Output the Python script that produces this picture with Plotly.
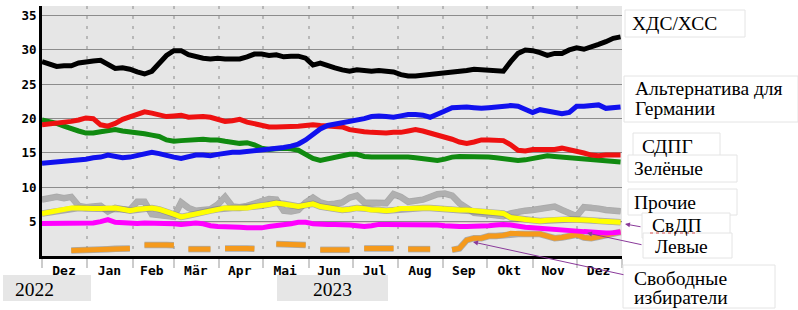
import plotly.graph_objects as go
import pandas as pd

# ---- data (5-day sampling, 2022-12-01 .. 2023-12-31) ----
dates = pd.date_range("2022-12-01", periods=80, freq="5D")

cdu = [28.3, 27.9, 27.6, 27.7, 27.7, 28.1, 28.3, 28.4, 28.5, 27.8,
       27.3, 27.4, 27.2, 26.8, 26.5, 26.9, 28.1, 29.2, 29.9, 29.9,
       29.3, 29.0, 28.8, 28.7, 28.8, 28.7, 28.7, 28.7, 29.0, 29.4,
       29.4, 29.2, 29.3, 29.0, 29.1, 29.1, 28.8, 27.8, 28.1, 27.7,
       27.4, 27.1, 26.9, 27.1, 27.0, 26.9, 27.0, 26.9, 26.8, 26.4,
       26.2, 26.2, 26.3, 26.5, 26.5, 26.6, 26.7, 26.9, 27.0, 27.2,
       27.1, 27.0, 27.0, 26.9, 28.3, 29.5, 30.0, 29.9, 29.6, 29.2,
       29.5, 29.5, 30.0, 30.3, 30.1, 30.4, 30.8, 31.2, 31.7, 31.9]

afd = [13.5, 13.6, 13.7, 13.8, 13.85, 13.9, 14.1, 14.3, 14.4, 14.7,
       14.5, 14.3, 14.4, 14.6, 14.9, 15.1, 14.9, 14.6, 14.4, 14.2,
       14.5, 14.7, 14.7, 14.6, 14.8, 15.0, 15.1, 15.1, 15.2, 15.3,
       15.5, 15.6, 15.7, 15.8, 16.0, 16.3, 16.9, 17.8, 18.5, 19.0,
       19.2, 19.4, 19.5, 19.7, 20.0, 20.3, 20.4, 20.3, 20.2, 20.4,
       20.6, 20.6, 20.5, 20.2, 20.6, 21.1, 21.6, 21.7, 21.7, 21.6,
       21.5, 21.6, 21.7, 21.8, 21.9, 21.8, 21.3, 20.9, 21.3, 21.1,
       20.9, 20.7, 20.9, 21.8, 21.8, 21.9, 22.0, 21.5, 21.6, 21.7]

spd = [19.1, 19.2, 19.3, 19.5, 19.6, 19.8, 20.1, 20.0, 19.1, 18.9,
       19.3, 19.9, 20.3, 20.7, 21.0, 20.8, 20.5, 20.3, 20.4, 20.5,
       20.2, 20.3, 20.3, 20.2, 19.9, 19.6, 19.7, 19.9, 19.5, 19.3,
       19.0, 18.8, 18.8, 18.8, 18.9, 18.9, 19.0, 19.1, 19.0, 18.9,
       18.8, 18.8, 18.4, 18.2, 18.1, 18.0, 17.9, 17.9, 18.0, 18.0,
       18.2, 18.4, 18.2, 17.9, 17.7, 17.4, 17.0, 16.6, 16.4, 16.6,
       16.9, 16.9, 16.9, 16.8, 16.2, 15.4, 15.3, 15.5, 15.5, 15.5,
       15.5, 15.7, 15.5, 15.3, 15.0, 14.7, 14.6, 14.7, 14.7, 14.7]

gruene = [19.8, 19.6, 19.3, 18.9, 18.5, 18.2, 17.9, 17.9, 18.1, 18.3,
          18.4, 18.2, 18.1, 17.9, 17.8, 17.6, 17.4, 16.9, 16.7, 16.8,
          16.9, 17.0, 17.0, 16.9, 16.9, 16.7, 16.6, 16.4, 16.5, 16.2,
          15.7, 15.5, 15.6, 15.7, 15.6, 15.4, 14.8, 14.2, 13.9, 14.1,
          14.3, 14.6, 14.8, 14.8, 14.5, 14.4, 14.4, 14.4, 14.5, 14.5,
          14.4, 14.3, 14.2, 14.1, 13.9, 14.1, 14.4, 14.5, 14.5, 14.5,
          14.4, 14.4, 14.3, 14.2, 14.0, 13.9, 14.0, 14.2, 14.4, 14.6,
          14.5, 14.4, 14.3, 14.2, 14.1, 14.0, 13.9, 13.9, 13.8, 13.7]

sonstige = [8.2, 8.4, 8.6, 8.4, 8.6, 7.3, 7.1, 7.2, 7.3, 6.5,
            7.0, 6.8, 6.7, 7.9, 7.9, 6.1, 5.9, 5.8, 5.7, 7.8,
            7.0, 6.6, 6.6, 6.8, 7.5, 8.6, 7.2, 7.1, 7.3, 7.6,
            8.1, 8.3, 8.2, 6.6, 6.5, 6.7, 7.8, 8.5, 7.8, 7.5,
            7.6, 7.8, 8.5, 8.8, 7.8, 7.7, 7.6, 7.7, 9.0, 8.6,
            7.9, 8.0, 8.2, 8.6, 9.0, 9.1, 8.8, 7.7, 6.9, 6.3,
            6.2, 6.0, 5.9, 5.8, 6.2, 6.5, 6.6, 6.7, 6.9, 7.0,
            7.2, 6.7, 6.2, 5.8, 7.1, 7.1, 6.9, 6.7, 6.6, 6.5]

fdp = [6.2, 6.4, 6.6, 6.8, 7.0, 7.0, 6.9, 6.9, 6.9, 7.0,
       7.0, 6.8, 6.6, 6.8, 6.9, 7.0, 6.8, 6.5, 6.1, 5.7,
       5.9, 6.2, 6.4, 6.6, 6.8, 7.0, 7.0, 7.0, 7.0, 7.2,
       7.3, 7.5, 7.7, 7.6, 7.4, 7.2, 7.4, 7.6, 7.2, 7.0,
       6.8, 6.7, 6.8, 7.0, 6.9, 6.7, 6.7, 6.6, 6.7, 6.9,
       6.9, 7.0, 7.0, 7.0, 6.9, 6.9, 6.8, 6.7, 6.7, 6.6,
       6.5, 6.4, 6.3, 6.2, 5.6, 5.4, 5.3, 5.2, 5.1, 5.2,
       5.3, 5.3, 5.3, 5.3, 5.2, 5.2, 5.1, 5.0, 5.0, 4.9]

linke = [4.75, 4.75, 4.75, 4.8, 4.75, 4.75, 4.8, 4.8, 5.0, 5.3,
         4.9, 4.8, 4.75, 4.75, 4.8, 4.8, 4.8, 4.75, 4.7, 4.6,
         4.7, 4.8, 4.7, 4.4, 4.3, 4.3, 4.3, 4.2, 4.1, 4.05,
         4.1, 4.3, 4.4, 4.5, 4.7, 4.9, 4.9, 4.7, 4.6, 4.6,
         4.6, 4.6, 4.5, 4.4, 4.3, 4.4, 4.6, 4.6, 4.6, 4.6,
         4.6, 4.6, 4.6, 4.5, 4.5, 4.4, 4.3, 4.3, 4.3, 4.3,
         4.3, 4.4, 4.5, 4.6, 4.5, 4.3, 4.2, 4.1, 4.0, 3.9,
         3.9, 3.8, 3.7, 3.6, 3.55, 3.5, 3.4, 3.35, 3.4, 3.5]

freie_waehler = [None, None, None, None, 0.8, 0.8, 0.85, 0.9, 0.95, 1.0,
                 1.05, 1.1, 1.1, None, 1.6, 1.65, 1.6, 1.6, 1.55, None,
                 1.0, 1.0, 1.05, 1.0, None, 1.1, 1.15, 1.1, 1.1, 1.05,
                 None, None, 1.75, 1.75, 1.7, 1.7, 1.6, None, 0.9, 0.9,
                 0.95, 0.95, 0.9, None, 1.1, 1.15, 1.1, 1.1, 1.1, None,
                 1.0, 1.0, 1.0, 1.0, None, None, 0.9, 1.1, 2.3, 2.6,
                 2.6, 2.9, 2.9, 3.0, 3.3, 3.2, 3.2, 3.2, 3.2, 2.9,
                 2.6, 2.7, 2.9, 3.1, 2.7, 2.6, 2.8, 3.1, 3.3, 3.5]

month_ticks = ["2022-12-16", "2023-01-16", "2023-02-14", "2023-03-16", "2023-04-15",
               "2023-05-16", "2023-06-15", "2023-07-16", "2023-08-16", "2023-09-15",
               "2023-10-16", "2023-11-15", "2023-12-16"]
month_labels = ["Dez", "Jan", "Feb", "Mär", "Apr", "Mai", "Jun", "Jul", "Aug",
                "Sep", "Okt", "Nov", "Dez"]
y_ticks = [5, 10, 15, 20, 25, 30, 35]

# ---- figure ----
W, H = 798, 310
L, R, T, B = 42, 176, 6, 54
PW, PH = W - L - R, H - T - B


def px(x):
    return (x - L) / PW


def py(y):
    return (H - B - y) / PH


series = [
    (sonstige, "#b0b0b0"),
    (freie_waehler, "#f59a1c"),
    (linke, "#ff00ff"),
    (fdp, "#ffff00"),
    (gruene, "#108a10"),
    (spd, "#ee1111"),
    (afd, "#1111ee"),
    (cdu, "#000000"),
]

fig = go.Figure()
for vals, col in series:
    if col in ("#b0b0b0", "#f59a1c", "#ffff00"):
        fig.add_trace(go.Scatter(x=dates, y=vals, mode="lines",
                                 line=dict(color="rgba(120,120,120,0.55)", width=6.5),
                                 hoverinfo="skip", connectgaps=False))
    fig.add_trace(go.Scatter(x=dates, y=vals, mode="lines",
                             line=dict(color=col, width=5),
                             connectgaps=False))

fig.update_layout(
    width=W, height=H,
    margin=dict(l=L, r=R, t=T, b=B),
    paper_bgcolor="white",
    plot_bgcolor="#e6e6e6",
    showlegend=False,
    xaxis=dict(
        range=["2022-12-01", "2024-01-01"],
        tickmode="array", tickvals=month_ticks, ticktext=month_labels,
        showgrid=False, ticks="",
        tickfont=dict(family="DejaVu Sans Mono", size=13, color="black", weight="bold"),
        showline=True, linecolor="black", linewidth=3,
        minor=dict(dtick="M1", tick0="2022-12-01", showgrid=True,
                   gridcolor="#b8b8b8", griddash="3px,7px", gridwidth=1.5,
                   ticks="outside", ticklen=9, tickcolor="#cccccc", tickwidth=1.5),
        zeroline=False,
    ),
    yaxis=dict(
        range=[0, 36.4],
        tickmode="array", tickvals=y_ticks,
        showgrid=True, gridcolor="#8c8c8c", gridwidth=1,
        ticks="",
        tickfont=dict(family="DejaVu Sans Mono", size=12.5, color="black", weight="bold"),
        showline=True, linecolor="black", linewidth=3,
        zeroline=False,
    ),
)

# red 5% threshold line
fig.add_shape(type="line", xref="paper", yref="y", x0=0, x1=1, y0=5, y1=5,
              line=dict(color="#e03030", width=1), layer="below")

serif = "Liberation Serif"

# label boxes on the right (x0, y0, x1, y1 in pixels)
boxes = [
    (625, 10, 745, 37),
    (624, 76, 798, 122),
    (633, 133, 720, 158),
    (628, 155, 737, 182),
    (628, 189, 737, 215),
    (642, 213, 730, 238),
    (643, 233, 732, 258),
    (623, 265, 775, 308),
]
for x0, y0, x1, y1 in boxes:
    fig.add_shape(type="rect", xref="paper", yref="paper",
                  x0=px(x0), x1=px(x1), y0=py(y1), y1=py(y0),
                  line=dict(color="#e4e4e4", width=1), fillcolor="white", layer="above")

labels = [
    ("ХДС/ХСС", 630, 24),
    ("Альтернатива для", 633, 89),
    ("Германии", 633, 108),
    ("СДПГ", 640, 146),
    ("Зелёные", 632, 168),
    ("Прочие", 632, 202),
    ("СвДП", 650, 225),
    ("Левые", 653, 246),
    ("Свободные", 632, 278.5),
    ("избиратели", 632, 297.5),
]
for txt, x, y in labels:
    fig.add_annotation(text=txt, xref="paper", yref="paper", x=px(x), y=py(y),
                       xanchor="left", yanchor="middle", showarrow=False,
                       font=dict(family=serif, size=19.5, color="black"))

# spell-check underline under СвДП
fig.add_shape(type="line", xref="paper", yref="paper", x0=px(650), x1=px(697),
              y0=py(233), y1=py(233), line=dict(color="#e05050", width=1, dash="dot"))

# arrows
arrows = [
    ((625, 224), (642, 227)),
    ((587, 233), (643, 245)),
    ((473, 242), (625, 275)),
]
for (tx, ty), (sx, sy) in arrows:
    fig.add_annotation(text="", xref="paper", yref="paper", x=px(tx), y=py(ty),
                       ax=sx - tx, ay=sy - ty, showarrow=True,
                       arrowhead=2, arrowsize=1, arrowwidth=1, arrowcolor="#8a3a9a")

# year boxes
for x0, x1, txt, tx in [(3, 91, "2022", 13), (277, 388, "2023", 311)]:
    fig.add_shape(type="rect", xref="paper", yref="paper",
                  x0=px(x0), x1=px(x1), y0=py(301), y1=py(275),
                  line=dict(width=0), fillcolor="#e6e6e6")
    fig.add_annotation(text=txt, xref="paper", yref="paper", x=px(tx), y=py(289),
                       xanchor="left", yanchor="middle", showarrow=False,
                       font=dict(family=serif, size=19.5, color="black"))

fig.write_html("out.html", config={"displayModeBar": False},
               post_script="document.body.style.margin='0';document.body.style.overflow='hidden';")
